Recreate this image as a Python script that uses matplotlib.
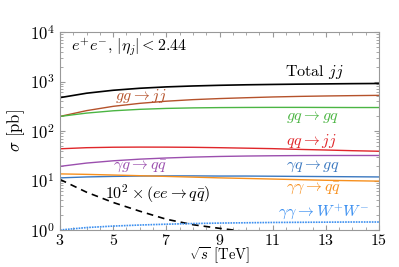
import numpy as np
import matplotlib
matplotlib.use('Agg')
import matplotlib.pyplot as plt
from matplotlib.ticker import MultipleLocator, LogLocator, NullFormatter

plt.rcParams['mathtext.fontset'] = 'cm'
plt.rcParams['font.family'] = 'serif'
plt.rcParams['font.serif'] = ['cmr10', 'DejaVu Serif']
plt.rcParams['axes.formatter.use_mathtext'] = True

# sqrt(s) in TeV
sqrts = [3, 4, 5, 6, 7, 8, 9, 10, 11, 12, 13, 14, 15]

total = [472, 580, 665, 730, 778, 812, 838, 858, 872, 885, 895, 905, 912]
gg_jj = [197, 258, 315, 362, 400, 430, 452, 470, 487, 500, 510, 518, 525]
gq_gq = [197, 230, 256, 274, 286, 293, 297, 299, 300, 300, 299, 298, 298]
qq_jj = [43.7, 46.0, 47.0, 47.3, 47.2, 46.8, 46.0, 45.0, 44.0, 42.5, 41.3, 40.0, 39.0]
yg_qq = [19.3, 22.5, 25.0, 27.0, 28.5, 29.7, 30.6, 31.2, 31.6, 31.9, 32.0, 32.0, 32.0]
yq_gq = [11.3, 11.8, 12.1, 12.3, 12.4, 12.4, 12.3, 12.3, 12.2, 12.1, 12.0, 11.9, 11.8]
yy_qq = [13.6, 13.3, 12.9, 12.5, 12.1, 11.7, 11.3, 11.0, 10.7, 10.4, 10.1, 9.9, 9.7]
ee_qq = [10.5, 5.8, 3.6, 2.4, 1.65, 1.28, 1.08, 0.93, 0.8, 0.7, 0.62, 0.55, 0.5]
yy_ww = [1.0, 1.12, 1.2, 1.26, 1.31, 1.35, 1.38, 1.4, 1.42, 1.43, 1.44, 1.45, 1.45]

fig = plt.figure(figsize=(3.99, 2.67), dpi=100)
ax = fig.add_axes([60 / 399, 1 - 230 / 267, 319 / 399, 198 / 267])

ax.plot(sqrts, total, color='black', lw=1.2)
ax.plot(sqrts, gg_jj, color='#b5522b', lw=1.0)
ax.plot(sqrts, gq_gq, color='#4bb543', lw=1.0)
ax.plot(sqrts, qq_jj, color='#e0262a', lw=1.0)
ax.plot(sqrts, yg_qq, color='#9b4fae', lw=1.0)
ax.plot(sqrts, yq_gq, color='#3a78c0', lw=1.0)
ax.plot(sqrts, yy_qq, color='#f7901e', lw=1.0)
ax.plot(sqrts, ee_qq, color='black', lw=1.2, ls=(0, (4, 3)))
ax.plot(sqrts, yy_ww, color='#3b8ff0', lw=1.2, ls=(0, (1, 0.6)))

ax.set_yscale('log')
ax.set_xlim(3, 15)
ax.set_ylim(1, 1e4)
ax.set_xticks([3, 5, 7, 9, 11, 13, 15])
ax.xaxis.set_minor_locator(MultipleLocator(0.5))
ax.yaxis.set_major_locator(LogLocator(base=10, numticks=10))
ax.yaxis.set_minor_locator(LogLocator(base=10, subs=np.arange(2, 10), numticks=20))
ax.yaxis.set_minor_formatter(NullFormatter())
ax.tick_params(which='both', direction='in', top=True, right=True,
               color='#999999', labelsize=12)
ax.tick_params(which='major', length=3.5, pad=4)
ax.tick_params(axis='x', which='major', pad=2, labelsize=11.5)
ax.tick_params(which='minor', length=2)
for sp in ax.spines.values():
    sp.set_color('#999999')
    sp.set_linewidth(0.8)

# x label placed in figure coords so it stays inside the canvas
fig.text(220 / 399, 1 / 267, r'$\sqrt{s}$ [TeV]', fontsize=10.5, ha='center', va='bottom')
ax.set_ylabel(r'$\sigma$ [pb]', fontsize=12, labelpad=2)

fs = 11.5
ax.text(3.4, 10 ** 3.68, r'$e^{+}e^{-},\,|\eta_j|<2.44$', fontsize=fs, va='center')
ax.text(11.45, 10 ** 3.19, r'Total $jj$', fontsize=fs, va='center')
ax.text(5.07, 10 ** 2.71, r'$gg\rightarrow jj$', fontsize=fs, va='center', color='#b5522b')
ax.text(11.5, 10 ** 2.28, r'$gq\rightarrow gq$', fontsize=fs, va='center', color='#4bb543')
ax.text(11.5, 10 ** 1.8, r'$qq\rightarrow jj$', fontsize=fs, va='center', color='#e0262a')
ax.text(5.0, 10 ** 1.3, r'$\gamma g\rightarrow q\bar{q}$', fontsize=fs, va='center', color='#9b4fae')
ax.text(11.5, 10 ** 1.28, r'$\gamma q\rightarrow gq$', fontsize=fs, va='center', color='#3a78c0')
ax.text(11.5, 10 ** 0.84, r'$\gamma\gamma\rightarrow q\bar{q}$', fontsize=fs, va='center', color='#f7901e')
ax.text(4.7, 10 ** 0.74, r'$10^2\times(ee\rightarrow q\bar{q})$', fontsize=fs, va='center')
ax.text(11.2, 10 ** 0.38, r'$\gamma\gamma\rightarrow W^{+}W^{-}$', fontsize=fs, va='center', color='#3b8ff0')

fig.savefig('out.png', dpi=100)
